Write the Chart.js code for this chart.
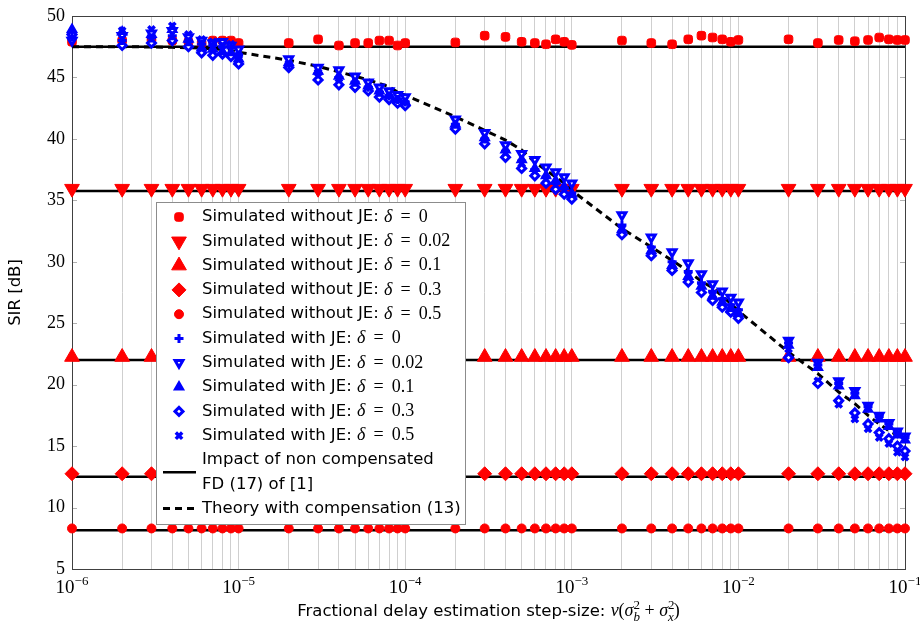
<!DOCTYPE html>
<html>
<head>
<meta charset="utf-8">
<script src="https://cdn.jsdelivr.net/npm/chart.js@4.4.1/dist/chart.umd.min.js"></script>
<style>
  html, body { margin: 0; padding: 0; background: #fff; }
  #wrap { width: 920px; height: 628px; }
</style>
</head>
<body>
<div id="wrap"><canvas id="sirChart" width="920" height="628"></canvas></div>
<script>
// x positions (step-size), one per vertical grid line
const stepSizes = [
  1e-6, 2e-6, 3e-6, 4e-6, 5e-6, 6e-6, 7e-6, 8e-6, 9e-6,
  1e-5, 2e-5, 3e-5, 4e-5, 5e-5, 6e-5, 7e-5, 8e-5, 9e-5,
  1e-4, 2e-4, 3e-4, 4e-4, 5e-4, 6e-4, 7e-4, 8e-4, 9e-4,
  1e-3, 2e-3, 3e-3, 4e-3, 5e-3, 6e-3, 7e-3, 8e-3, 9e-3,
  1e-2, 2e-2, 3e-2, 4e-2, 5e-2, 6e-2, 7e-2, 8e-2, 9e-2,
  1e-1
];
const xMajor = [1e-6, 1e-5, 1e-4, 1e-3, 1e-2, 1e-1];
const xMajorExp = ['\u22126', '\u22125', '\u22124', '\u22123', '\u22122', '\u22121'];
const yTicks = [5, 10, 15, 20, 25, 30, 35, 40, 45, 50];

// simulated without JE
const noJeD0 = [
  47.9, 48.0, 48.1, 48.0, 47.9, 47.8, 48.0, 48.0, 48.0, 47.8,
  47.8, 48.1, 47.6, 47.8, 47.8, 48.0, 48.0, 47.6, 47.8,
  47.85, 48.4, 48.3, 47.9, 47.8, 47.7, 48.1, 47.9, 47.65,
  48.0, 47.8, 47.7, 48.1, 48.4, 48.25, 48.1, 47.9, 48.05,
  48.1, 47.8, 48.05, 47.95, 48.05, 48.25, 48.1, 48.05, 48.05
];
const noJeD002 = [
  35.95, 35.95, 35.95, 35.95, 35.95, 35.95, 35.95, 35.95, 35.95, 35.95,
  35.95, 35.95, 35.95, 35.95, 35.95, 35.95, 35.95, 35.95, 35.95,
  35.95, 35.95, 35.95, 35.95, 35.95, 35.95, 35.95, 35.95, 35.95,
  35.95, 35.95, 35.95, 35.95, 35.95, 35.95, 35.95, 35.95, 35.95,
  35.95, 35.95, 35.95, 35.95, 35.95, 35.95, 35.95, 35.95, 35.95
];
const noJeD01 = [
  22.25, 22.25, 22.25, 22.25, 22.25, 22.25, 22.25, 22.25, 22.25, 22.25,
  22.25, 22.25, 22.25, 22.25, 22.25, 22.25, 22.25, 22.25, 22.25,
  22.25, 22.25, 22.25, 22.25, 22.25, 22.25, 22.25, 22.25, 22.25,
  22.25, 22.25, 22.25, 22.25, 22.25, 22.25, 22.25, 22.25, 22.25,
  22.25, 22.25, 22.25, 22.25, 22.25, 22.25, 22.25, 22.25, 22.25
];
const noJeD03 = [
  12.75, 12.75, 12.75, 12.75, 12.75, 12.75, 12.75, 12.75, 12.75, 12.75,
  12.75, 12.75, 12.75, 12.75, 12.75, 12.75, 12.75, 12.75, 12.75,
  12.75, 12.75, 12.75, 12.75, 12.75, 12.75, 12.75, 12.75, 12.75,
  12.75, 12.75, 12.75, 12.75, 12.75, 12.75, 12.75, 12.75, 12.75,
  12.75, 12.75, 12.75, 12.75, 12.75, 12.75, 12.75, 12.75, 12.75
];
const noJeD05 = [
  8.3, 8.3, 8.3, 8.3, 8.3, 8.3, 8.3, 8.3, 8.3, 8.3,
  8.3, 8.3, 8.3, 8.3, 8.3, 8.3, 8.3, 8.3, 8.3,
  8.3, 8.3, 8.3, 8.3, 8.3, 8.3, 8.3, 8.3, 8.3,
  8.3, 8.3, 8.3, 8.3, 8.3, 8.3, 8.3, 8.3, 8.3,
  8.3, 8.3, 8.3, 8.3, 8.3, 8.3, 8.3, 8.3, 8.3
];

// simulated with JE
const jeD0 = [
  48.3, 48.0, 48.2, 48.4, 47.9, 47.7, 47.6, 47.5, 47.4, 46.8,
  46.0, 45.3, 45.0, 44.6, 44.2, 43.8, 43.5, 43.2, 43.0,
  41.2, 40.0, 39.0, 38.2, 37.5, 36.9, 36.4, 36.0, 35.6,
  33.0, 31.2, 30.0, 29.2, 28.3, 27.6, 27.0, 26.5, 26.1,
  23.4, 21.6, 20.1, 19.3, 18.2, 17.4, 16.8, 16.1, 15.7
];
const jeD002 = [
  48.0, 48.4, 48.6, 48.8, 48.3, 48.0, 47.8, 47.9, 47.6, 47.3,
  46.5, 45.8, 45.6, 45.1, 44.6, 44.2, 43.9, 43.6, 43.4,
  41.6, 40.5, 39.5, 38.8, 38.3, 37.7, 37.3, 36.9, 36.4,
  33.8, 32.0, 30.8, 29.9, 29.0, 28.2, 27.6, 27.1, 26.7,
  23.6, 21.8, 20.3, 19.5, 18.3, 17.5, 16.9, 16.2, 15.8
];
const jeD01 = [
  48.9, 48.7, 48.5, 48.9, 48.1, 47.4, 47.3, 47.1, 47.0, 46.5,
  46.2, 45.5, 45.1, 44.7, 44.3, 43.9, 43.6, 43.2, 43.0,
  41.2, 40.1, 39.1, 38.3, 37.6, 37.0, 36.6, 36.1, 35.5,
  32.6, 30.9, 29.7, 28.8, 28.0, 27.2, 26.7, 26.2, 25.8,
  23.2, 21.4, 19.9, 19.1, 18.0, 17.2, 16.6, 15.9, 15.5
];
const jeD03 = [
  48.5, 47.6, 47.8, 48.0, 47.5, 47.0, 46.8, 46.9, 46.7, 46.1,
  45.8, 44.8, 44.4, 44.2, 43.9, 43.4, 43.2, 42.9, 42.7,
  40.8, 39.6, 38.5, 37.6, 37.0, 36.4, 35.9, 35.5, 35.1,
  32.2, 30.5, 29.3, 28.35, 27.5, 26.85, 26.3, 25.9, 25.4,
  22.2, 20.1, 18.7, 17.7, 16.8, 16.1, 15.6, 15.0, 14.6
];
const jeD05 = [
  48.2, 48.8, 48.9, 49.2, 48.5, 48.1, 47.9, 47.6, 47.7, 46.8,
  46.1, 45.4, 44.9, 44.5, 44.1, 43.7, 43.4, 43.1, 42.9,
  41.0, 39.9, 38.8, 38.0, 37.3, 36.7, 36.2, 35.8, 35.3,
  32.7, 31.0, 29.8, 28.9, 28.0, 27.3, 26.8, 26.3, 25.9,
  22.9, 20.3, 18.4, 17.2, 16.4, 15.7, 15.2, 14.5, 14.1
];

// theory with compensation (13)
const theoryComp = [
  47.5, 47.5, 47.48, 47.45, 47.42, 47.38, 47.33, 47.27, 47.2, 47.05,
  46.4, 45.9, 45.45, 45.1, 44.8, 44.5, 44.25, 43.8, 43.55,
  41.8, 40.7, 39.9, 39.1, 38.1, 37.45, 36.9, 36.4, 35.8,
  32.7, 31.2, 30.1, 29.25, 28.4, 27.9, 27.2, 26.6, 26.0,
  22.65, 20.9, 19.4, 18.45, 17.5, 16.8, 16.25, 15.9, 15.6
];
// impact of non compensated FD, one level per delta
const fdLevels = [47.5, 35.75, 22.0, 12.5, 8.15];

const RED = '#ff0000';
const BLUE = '#0000ff';
const SANS = '"DejaVu Sans", Arial, sans-serif';
const SERIF = '"Liberation Serif", "Times New Roman", serif';

const toPoints = ys => ys.map((y, i) => ({ x: stepSizes[i], y }));

function markers(label, ys, style, extra) {
  return Object.assign({
    type: 'scatter',
    label,
    data: toPoints(ys),
    pointStyle: style,
    pointRadius: 5,
    pointBorderWidth: 1,
    pointRotation: 0,
    showLine: false,
    clip: false
  }, extra);
}

const datasets = [
  markers('Simulated without JE: \u03b4 = 0', noJeD0, 'rectRounded',
    { pointRadius: 5, pointBackgroundColor: RED, pointBorderColor: RED, order: 30 }),
  markers('Simulated without JE: \u03b4 = 0.02', noJeD002, 'triangle',
    { pointRadius: 8.5, pointRotation: 180, pointBackgroundColor: RED, pointBorderColor: RED, order: 30 }),
  markers('Simulated without JE: \u03b4 = 0.1', noJeD01, 'triangle',
    { pointRadius: 8.5, pointBackgroundColor: RED, pointBorderColor: RED, order: 30 }),
  markers('Simulated without JE: \u03b4 = 0.3', noJeD03, 'rectRot',
    { pointRadius: 7, pointBackgroundColor: RED, pointBorderColor: RED, order: 30 }),
  markers('Simulated without JE: \u03b4 = 0.5', noJeD05, 'circle',
    { pointRadius: 4.5, pointBackgroundColor: RED, pointBorderColor: RED, order: 30 }),
  markers('Simulated with JE: \u03b4 = 0', jeD0, 'cross',
    { pointRadius: 4.5, pointBorderWidth: 3, pointBackgroundColor: BLUE, pointBorderColor: BLUE, order: 10 }),
  markers('Simulated with JE: \u03b4 = 0.02', jeD002, 'triangle',
    { pointRadius: 4.5, pointRotation: 180, pointBorderWidth: 3, pointBackgroundColor: '#fff', pointBorderColor: BLUE, order: 10 }),
  markers('Simulated with JE: \u03b4 = 0.1', jeD01, 'triangle',
    { pointRadius: 5, pointBorderWidth: 2, pointBackgroundColor: BLUE, pointBorderColor: BLUE, order: 10 }),
  markers('Simulated with JE: \u03b4 = 0.3', jeD03, 'rectRot',
    { pointRadius: 4, pointBorderWidth: 3, pointBackgroundColor: '#fff', pointBorderColor: BLUE, order: 10 }),
  markers('Simulated with JE: \u03b4 = 0.5', jeD05, 'crossRot',
    { pointRadius: 4.5, pointBorderWidth: 3.5, pointBackgroundColor: BLUE, pointBorderColor: BLUE, order: 10 })
];

fdLevels.forEach((v, i) => {
  datasets.push({
    type: 'line',
    label: 'Impact of non compensated\nFD (17) of [1]',
    data: [{ x: stepSizes[0], y: v }, { x: stepSizes[stepSizes.length - 1], y: v }],
    borderColor: '#000',
    borderWidth: 2.5,
    pointRadius: 0,
    fill: false,
    noLegend: i > 0,
    order: 40
  });
});

datasets.push({
  type: 'line',
  label: 'Theory with compensation (13)',
  data: toPoints(theoryComp),
  borderColor: '#000',
  borderWidth: 3,
  borderDash: [7, 5],
  pointRadius: 0,
  fill: false,
  order: 20
});

// draws text made of pieces with different fonts (math in serif italic etc.)
function richWidth(ctx, parts) {
  let w = 0;
  parts.forEach(p => {
    ctx.font = p.font;
    if (!p.stack) w += ctx.measureText(p.text).width;
  });
  return w;
}
function drawRich(ctx, parts, x, y) {
  parts.forEach(p => {
    ctx.font = p.font;
    ctx.fillText(p.text, x, y + (p.dy || 0));
    if (!p.stack) x += ctx.measureText(p.text).width;
  });
}
function mathLabel(label, size) {
  const k = label.indexOf('\u03b4');
  if (k < 0) return [{ text: label, font: size + 'px ' + SANS }];
  return [
    { text: label.slice(0, k), font: size + 'px ' + SANS },
    { text: '\u03b4', font: 'italic 18px ' + SERIF },
    { text: label.slice(k + 1).replace(' = ', ' \u2009=\u2009 '), font: '18px ' + SERIF }
  ];
}

const frameAndLabels = {
  id: 'frameAndLabels',
  beforeDatasetsDraw(chart) {
    const { ctx, chartArea: a, scales } = chart;
    ctx.save();
    // y tick marks, inward on both sides
    ctx.strokeStyle = '#b0b0b0';
    ctx.lineWidth = 1;
    yTicks.forEach(t => {
      const py = Math.round(scales.y.getPixelForValue(t)) + 0.5;
      ctx.beginPath();
      ctx.moveTo(a.left, py); ctx.lineTo(a.left + 5, py);
      ctx.moveTo(a.right, py); ctx.lineTo(a.right - 5, py);
      ctx.stroke();
    });
    ctx.strokeStyle = '#404040';
    ctx.strokeRect(Math.round(a.left) + 0.5, Math.round(a.top) + 0.5,
      Math.round(a.right - a.left), Math.round(a.bottom - a.top));
    ctx.restore();
  },
  afterDraw(chart) {
    const { ctx, chartArea: a, scales } = chart;
    ctx.save();
    ctx.fillStyle = '#000';
    // y tick labels
    ctx.textAlign = 'right';
    ctx.textBaseline = 'middle';
    ctx.font = '18px ' + SERIF;
    yTicks.forEach(t => ctx.fillText(String(t), a.left - 7, scales.y.getPixelForValue(t)));
    // x tick labels 10^k
    ctx.textAlign = 'left';
    ctx.textBaseline = 'alphabetic';
    xMajor.forEach((v, i) => {
      const parts = [
        { text: '10', font: '19px ' + SERIF },
        { text: xMajorExp[i], font: '13px ' + SERIF, dy: -8 }
      ];
      const w = richWidth(ctx, parts);
      drawRich(ctx, parts, scales.x.getPixelForValue(v) - w / 2, a.bottom + 24);
    });
    // axis titles
    const xt = [
      { text: 'Fractional delay estimation step-size: ', font: '16.5px ' + SANS },
      { text: '\u03bd', font: 'italic 18px ' + SERIF },
      { text: '(', font: '18px ' + SERIF },
      { text: '\u03c3', font: 'italic 18px ' + SERIF },
      { text: '2', font: '13px ' + SERIF, dy: -7, stack: true },
      { text: 'b', font: 'italic 13px ' + SERIF, dy: 5 },
      { text: ' + ', font: '18px ' + SERIF },
      { text: '\u03c3', font: 'italic 18px ' + SERIF },
      { text: '2', font: '13px ' + SERIF, dy: -7, stack: true },
      { text: 'x', font: 'italic 13px ' + SERIF, dy: 5 },
      { text: ')', font: '18px ' + SERIF }
    ];
    const xw = richWidth(ctx, xt);
    drawRich(ctx, xt, (a.left + a.right) / 2 - xw / 2, a.bottom + 47);
    ctx.save();
    ctx.translate(20, (a.top + a.bottom) / 2);
    ctx.rotate(-Math.PI / 2);
    ctx.textAlign = 'center';
    ctx.font = '16.5px ' + SANS;
    ctx.fillText('SIR [dB]', 0, 0);
    ctx.restore();

    // legend box inside the plot
    const bx = 156, by = 202, bw = 309, bh = 322;
    ctx.fillStyle = '#fff';
    ctx.fillRect(bx, by, bw, bh);
    ctx.strokeStyle = '#8c8c8c';
    ctx.lineWidth = 1;
    ctx.strokeRect(bx + 0.5, by + 0.5, bw, bh);
    ctx.textAlign = 'left';
    ctx.textBaseline = 'middle';
    let rowY = 217;
    const mx = 179, tx = 202, step = 24.3;
    chart.data.datasets.forEach(ds => {
      if (ds.noLegend) return;
      ctx.fillStyle = '#000';
      if (ds.type === 'line') {
        const lines = ds.label.split('\n');
        const cy = rowY + (lines.length - 1) * step / 2;
        ctx.save();
        ctx.strokeStyle = ds.borderColor;
        ctx.lineWidth = ds.borderWidth;
        ctx.setLineDash(ds.borderDash || []);
        ctx.beginPath();
        ctx.moveTo(mx - 16, cy); ctx.lineTo(mx + 17, cy);
        ctx.stroke();
        ctx.restore();
        lines.forEach((l, j) => drawRich(ctx, mathLabel(l, 16.5), tx, rowY + j * step));
        rowY += lines.length * step;
        return;
      }
      ctx.save();
      ctx.fillStyle = ds.pointBackgroundColor;
      ctx.strokeStyle = ds.pointBorderColor;
      ctx.lineWidth = ds.pointBorderWidth;
      Chart.helpers.drawPoint(ctx, {
        pointStyle: ds.pointStyle,
        radius: ds.pointRadius,
        rotation: ds.pointRotation,
        borderWidth: ds.pointBorderWidth
      }, mx, rowY);
      ctx.restore();
      ctx.fillStyle = '#000';
      drawRich(ctx, mathLabel(ds.label, 16.5), tx, rowY);
      rowY += step;
    });
    ctx.restore();
  }
};

new Chart(document.getElementById('sirChart').getContext('2d'), {
  data: { datasets },
  options: {
    responsive: false,
    animation: false,
    devicePixelRatio: 1,
    layout: { padding: { top: 16, right: 15, left: 0, bottom: 0 } },
    plugins: {
      legend: { display: false },
      tooltip: { enabled: false }
    },
    scales: {
      x: {
        type: 'logarithmic',
        min: 1e-6,
        max: 1e-1,
        afterBuildTicks: scale => {
          scale.ticks = stepSizes.map(v => ({ value: v }));
        },
        afterFit: scale => { scale.height = 59; },
        grid: { color: '#cfcfcf', lineWidth: 1, drawTicks: false },
        border: { display: false },
        ticks: { display: false }
      },
      y: {
        type: 'linear',
        min: 5,
        max: 50,
        afterFit: scale => { scale.width = 72; },
        grid: { display: false },
        border: { display: false },
        ticks: { display: false }
      }
    }
  },
  plugins: [frameAndLabels]
});
</script>
</body>
</html>
